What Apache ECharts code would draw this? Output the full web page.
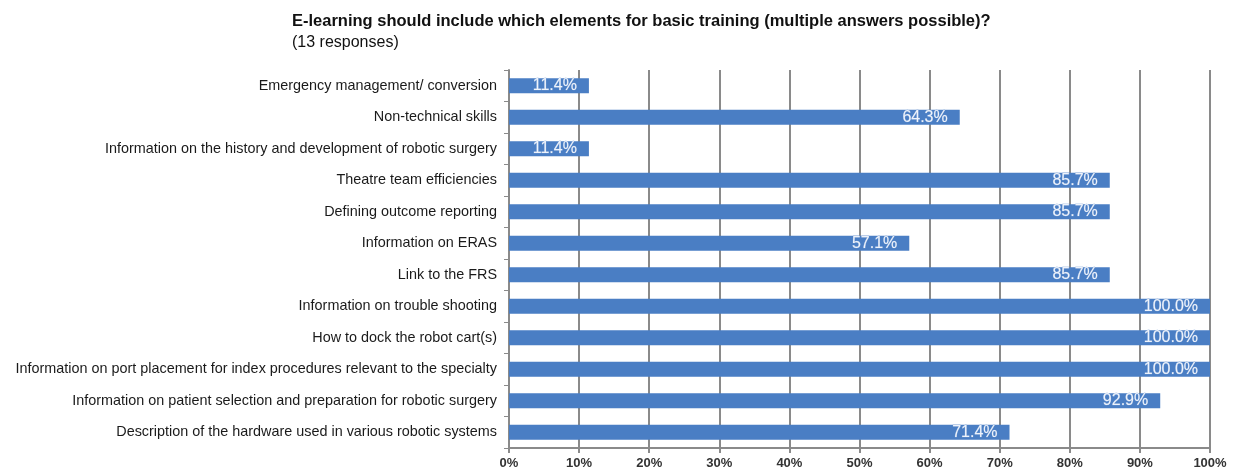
<!DOCTYPE html>
<html>
<head>
<meta charset="utf-8">
<script src="https://cdn.jsdelivr.net/npm/echarts@6/dist/echarts.min.js"></script>
<style>
    html, body { margin: 0; padding: 0; background: #fff; }
    #chart { width: 1233px; height: 476px; }
</style>
</head>
<body>
<div id="chart"></div>
<script>
const categories = [
    'Emergency management/ conversion',
    'Non-technical skills',
    'Information on the history and development of robotic surgery',
    'Theatre team efficiencies',
    'Defining outcome reporting',
    'Information on ERAS',
    'Link to the FRS',
    'Information on trouble shooting',
    'How to dock the robot cart(s)',
    'Information on port placement for index procedures relevant to the specialty',
    'Information on patient selection and preparation for robotic surgery',
    'Description of the hardware used in various robotic systems'
]
const percentages = [11.4, 64.3, 11.4, 85.7, 85.7, 57.1, 85.7, 100, 100, 100, 92.9, 71.4]
const xTicks = [0, 10, 20, 30, 40, 50, 60, 70, 80, 90, 100]

const myChart = echarts.init(document.getElementById('chart'))

const fontFamily = 'Liberation Sans, Arial, sans-serif'

const option = {
    animation: false,
    textStyle: { fontFamily },
    title: {
        text: 'E-learning should include which elements for basic training (multiple answers possible)?',
        subtext: '(13 responses)',
        left: 287,
        top: 8,
        itemGap: 5,
        textStyle: { fontSize: 16.5, fontWeight: 'bold', color: '#111', fontFamily },
        subtextStyle: { fontSize: 16, color: '#111', fontFamily }
    },
    grid: {
        left: 509,
        right: 23,
        top: 70,
        bottom: 28,
        containLabel: false
    },
    xAxis: {
        type: 'value',
        min: xTicks[0],
        max: xTicks[xTicks.length - 1],
        interval: 10,
        axisLine: { show: true, lineStyle: { color: '#8a8a8a', width: 2 } },
        axisTick: { show: true, length: 5, lineStyle: { color: '#8a8a8a', width: 2 } },
        splitLine: { show: true, lineStyle: { color: '#8a8a8a', width: 2 } },
        axisLabel: {
            formatter: v => v + '%',
            fontSize: 13,
            fontWeight: 'bold',
            color: '#333',
            margin: 9
        }
    },
    yAxis: {
        type: 'category',
        inverse: true,
        data: categories,
        axisLine: { show: true, lineStyle: { color: '#8a8a8a', width: 2 } },
        axisTick: { show: true, length: 5, lineStyle: { color: '#8a8a8a', width: 1 } },
        axisLabel: { fontSize: 14.4, color: '#1a1a1a', margin: 12 }
    },
    series: [
        {
            type: 'bar',
            data: percentages,
            barWidth: 15,
            itemStyle: { color: '#4a7ec4' },
            label: {
                show: true,
                position: 'insideRight',
                distance: 12,
                formatter: p => p.value.toFixed(1) + '%',
                fontSize: 16,
                color: '#eef3fb',
                textBorderColor: '#7ea2d6',
                textBorderWidth: 0.6
            }
        }
    ]
}

myChart.setOption(option)
window.addEventListener('resize', () => myChart.resize())
</script>
</body>
</html>
